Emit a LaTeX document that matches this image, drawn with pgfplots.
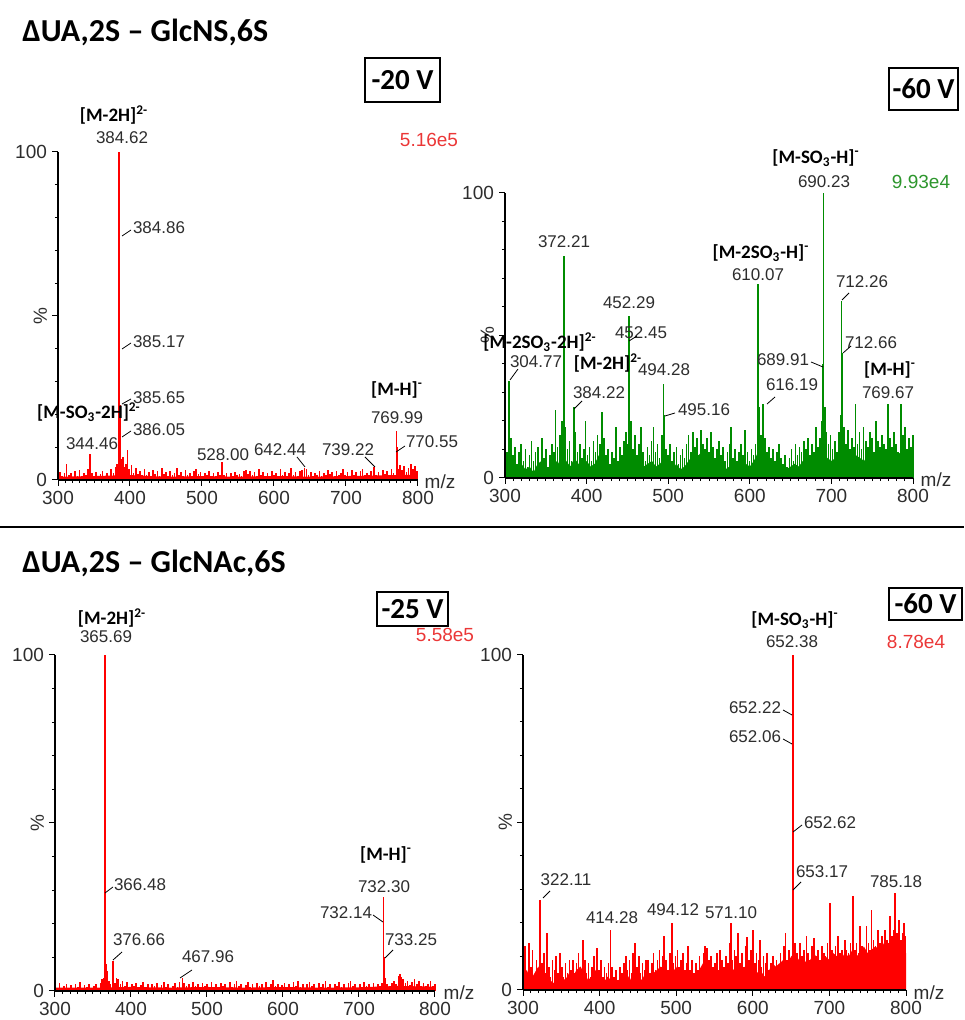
\documentclass[border=0pt]{standalone}
\usepackage{fontspec}
\usepackage{graphicx}
\usepackage{pgfplots}
\pgfplotsset{compat=1.18}
\newfontfamily\numfam{Liberation Sans}
\newfontfamily\labfam{Carlito}
\newcommand{\nf}{\numfam\fontsize{8.5}{10}\selectfont}
\newcommand{\tf}{\numfam\fontsize{9.5}{11}\selectfont}
\newcommand{\bfl}{\labfam\bfseries\fontsize{9.5}{11}\selectfont}
\newcommand{\titf}{\labfam\bfseries\fontsize{16}{19}\selectfont}
\newcommand{\boxf}{\labfam\bfseries\fontsize{14.5}{17}\selectfont}
\definecolor{specred}{RGB}{255,0,0}
\definecolor{specgreen}{RGB}{0,140,0}
\definecolor{intred}{RGB}{235,55,55}
\definecolor{intgreen}{RGB}{45,150,45}
\definecolor{numgray}{RGB}{45,45,45}
\pgfplotsset{spec/.style={
  scale only axis, anchor=south west, clip=false, axis on top,
  xmin=300, xmax=800, ymin=0, ymax=100,
  axis x line*=bottom, axis y line*=left,
  axis line style={line width=0.8pt, black},
  xtick={300,400,...,800}, minor x tick num=9,
  ytick={0,50,100}, minor ytick={10,20,...,90},
  yticklabels={0,{\rotatebox{90}{\%}},100},
  tick align=outside,
  major tick length=3pt, minor tick length=1.6pt,
  every tick/.style={black, line width=0.5pt},
  tick label style={font=\tf, text=numgray},
  /pgf/number format/assume math mode=true,
  xticklabel style={yshift=1pt},
  yticklabel style={xshift=1pt},
}}
\begin{document}
\begin{tikzpicture}
\useasboundingbox (0,0) rectangle (482pt,510pt);

% ---------------- Panel 1 ----------------
\begin{axis}[spec, at={(29pt,270pt)}, width=180pt, height=164pt]
\addplot[fill=specred, draw=none] coordinates {(300,1) (350,1.2) (400,1.5) (450,1) (500,1.2) (550,1) (600,1.2) (650,1) (700,1.2) (750,1.4) (800,1.6)} \closedcycle;
\addplot[ycomb, color=specred, line width=0.85pt] coordinates {
(300,1.5) (303,2.5) (306,1.2) (309,2.0) (312,4.8) (315,1.4) (318,2.2) (321,1.0) (324,2.6) (327,1.3)
(330,3.0) (333,1.1) (336,2.0) (339,1.6) (342,3.2) (344.46,8.0) (347,2.0) (350,1.2) (353,2.4) (356,1.0)
(359,1.8) (362,2.8) (365,1.3) (368,2.0) (371,1.1) (374,3.4) (377,2.2) (380,4.0) (382,5.0)
(384.62,100) (384.86,75) (385.17,40) (385.65,23) (386.05,13) (388,6.5) (390,7.0) (392,4.0) (394,5.0)
(396.5,9.0) (399,3.5) (402,4.5) (405,2.2) (408,3.8) (411,1.8) (414,2.6) (417,1.4) (420,3.2) (423,1.6)
(426,2.4) (429,1.2) (432,3.0) (435,1.8) (438,2.6) (441,1.3) (444,3.6) (447,1.7) (450,2.3) (453,1.2)
(456,2.8) (459,1.5) (462,2.0) (465,3.8) (468,1.6) (471,2.4) (474,1.2) (477,3.0) (480,1.5) (483,2.2)
(486,1.0) (489,2.6) (492,3.4) (495,1.8) (498,2.4) (501,1.2) (504,2.0) (507,1.5) (510,2.7) (513,1.3)
(516,2.0) (519,1.1) (522,2.4) (525,1.6) (528,5.5) (531,1.4) (534,2.2) (537,1.0) (540,2.0) (543,1.2)
(546,2.5) (549,1.4) (552,1.9) (555,1.1) (558,2.6) (561,3.0) (564,1.8) (567,2.8) (570,1.4) (573,2.3)
(576,1.2) (579,3.5) (582,1.6) (585,2.4) (588,1.3) (591,2.0) (594,1.1) (597,2.8) (600,1.5) (603,2.0)
(606,1.2) (609,3.2) (612,1.6) (615,2.5) (618,1.3) (621,2.1) (624,3.6) (627,1.4) (630,2.4) (633,1.2)
(636,2.8) (639,3.0) (642.44,3.8) (645,3.2) (648,1.6) (651,2.4) (654,1.2) (657,2.0) (660,1.4) (663,2.6)
(666,1.1) (669,2.2) (672,1.5) (675,3.0) (678,1.8) (681,2.4) (684,1.2) (687,2.8) (690,1.5) (693,2.2)
(696,3.3) (699,1.6) (702,2.4) (705,1.3) (708,2.9) (711,1.5) (714,2.3) (717,1.2) (720,2.6) (723,3.2)
(726,1.6) (729,2.2) (732,1.4) (735,2.6) (739.22,4.0) (742,1.6) (745,2.4) (748,1.2) (751,3.0) (754,1.8)
(757,2.8) (760,1.6) (763,3.4) (766,2.2) (769.99,15.0) (770.55,10.0) (772,3.5) (775,4.5) (778,3.0)
(781,4.2) (784,2.5) (787,3.8) (790,5.0) (793,3.2) (796,4.4) (799,2.6)};
\end{axis}

% ---------------- Panel 2 ----------------
\begin{axis}[spec, at={(252.5pt,271pt)}, width=204pt, height=142.5pt]
\addplot[fill=specgreen, draw=none] coordinates {
(300,3) (305,6) (310,4) (315,2) (320,5) (325,3) (330,4) (335,2) (340,5) (345,6) (350,3) (355,4) (360,7) (365,5) (370,8) (375,6) (380,4) (385,7) (390,5) (395,3)
(400,6) (405,4) (410,5) (415,8) (420,7) (425,4) (430,3) (435,5) (440,4) (445,6) (450,8) (455,7) (460,5) (465,6) (470,4) (475,5) (480,6) (485,4) (490,5) (495,7)
(500,4) (505,3) (510,5) (515,3) (520,4) (525,6) (530,8) (535,7) (540,9) (545,6) (550,7) (555,5) (560,4) (565,5) (570,3) (575,4) (580,5) (585,3) (590,4) (595,5)
(600,4) (605,6) (610,9) (615,7) (620,5) (625,4) (630,3) (635,4) (640,2) (645,3) (650,4) (655,5) (660,4) (665,6) (670,5) (675,7) (680,6) (685,8) (690,9) (695,7)
(700,6) (705,7) (710,9) (715,8) (720,7) (725,6) (730,8) (735,7) (740,6) (745,8) (750,7) (755,6) (760,8) (765,7) (770,9) (775,7) (780,8) (785,9) (790,7) (795,8) (800,6)} \closedcycle;
\addplot[ycomb, color=specgreen, line width=0.85pt] coordinates {
(300,6) (302.5,9) (304.77,34) (307.5,14) (310,8) (312.5,11) (315,5) (317.5,9) (320,12) (322.5,6)
(325,10) (327.5,4) (330,8) (332.5,13) (335,6) (337.5,9) (340,11) (342.5,5) (345,14) (347.5,7)
(350,10) (352.5,4) (355,8) (357.5,12) (360,9) (362,24) (364.5,11) (367,15) (370,20) (372.21,78)
(374,18) (376.5,10) (379,13) (381.5,6) (384.22,25) (386.5,16) (389,9) (391.5,12) (394,7) (396.5,10)
(398.5,20) (401,8) (403.5,11) (406,6) (408.5,13) (411,9) (413.5,15) (416,12) (418.5,23) (421,14)
(423.5,8) (426,10) (428.5,5) (431,9) (433.5,7) (436,18) (438.5,6) (441,11) (443.5,8) (446,13)
(448.5,16) (451,12) (452.29,57) (452.45,48) (454.5,20) (457,10) (459.5,15) (462,8) (464.5,12) (467,18)
(469.5,9) (472,6) (474.5,11) (477,8) (479.5,13) (482,18) (484.5,9) (487,12) (489.5,7) (492,15)
(494.28,33) (495.16,22) (497.5,10) (500,8) (502.5,12) (505,6) (507.5,9) (510,11) (512.5,5) (515,8)
(517.5,10) (520,7) (522.5,12) (525,15) (527.5,9) (530,16) (532.5,11) (535,14) (537.5,8) (540,17)
(542.5,12) (545,10) (547.5,14) (550,9) (552.5,16) (555,11) (557.5,7) (560,10) (562.5,13) (565,8)
(567.5,11) (570,6) (572.5,9) (575,12) (577,18) (579.5,7) (582,10) (584.5,6) (587,9) (589.5,12)
(592,8) (594.5,17) (597,9) (599.5,6) (602,10) (604.5,8) (607,12) (610.07,68) (612,25) (614,15)
(616.19,26) (618.5,14) (621,9) (623.5,11) (626,7) (628.5,10) (631,6) (633.5,9) (636,12) (638.5,7)
(641,5) (643.5,8) (646,4) (648.5,7) (651,10) (653.5,6) (656,12) (658.5,8) (661,11) (663.5,9)
(666,13) (668.5,10) (671,14) (673.5,8) (676,12) (678.5,9) (681,18) (683.5,11) (686,14) (688,20)
(689.91,40) (690.23,100) (692,25) (694,16) (696.5,12) (699,15) (701.5,10) (704,13) (706.5,9) (709,16)
(711,22) (712.26,62) (712.66,44) (713.2,29) (715,18) (717.5,12) (720,17) (722.5,10) (725,14) (727.5,11)
(729.5,26) (732,12) (734.5,16) (737,10) (739.5,18) (742,13) (744.5,11) (747,16) (749.5,14) (752,9)
(754.5,20) (757,13) (759.5,11) (762,15) (764.5,12) (767,10) (769.67,26) (772,14) (774.5,11) (777,16)
(779.5,12) (782,9) (785,26) (787.5,15) (790,18) (792.5,10) (795,14) (797.5,11) (800,15)};
\end{axis}

% ---------------- Panel 3 ----------------
\begin{axis}[spec, at={(27.5pt,14.5pt)}, width=190pt, height=168pt]
\addplot[fill=specred, draw=none] coordinates {(300,1) (350,1) (400,1.2) (450,1) (500,1.2) (550,1) (600,1.2) (650,1) (700,1.1) (750,1.5) (800,1.3)} \closedcycle;
\addplot[ycomb, color=specred, line width=0.85pt] coordinates {
(300,2.0) (303,1.0) (306,2.4) (309,0.8) (312,1.6) (315,2.2) (318,1.0) (321,1.8) (324,0.9) (327,2.0)
(330,1.2) (333,2.6) (336,1.0) (339,1.8) (342,1.2) (345,2.2) (348,0.8) (351,1.6) (354,2.0) (357,1.0)
(360,2.5) (362,3.5) (364,4.0) (365.69,100) (366.48,29) (367.5,8) (369,6) (371,3.0) (373,2.2) (376.66,9)
(379,2.5) (381,4.0) (383,3.6) (386,2.2) (389,3.0) (392,1.6) (395,2.6) (398,1.2) (401,2.0) (404,1.5)
(407,2.4) (410,1.0) (413,1.8) (416,2.8) (419,1.2) (422,2.0) (425,1.0) (428,2.2) (431,1.4) (434,2.4)
(437,1.0) (440,1.8) (443,2.6) (446,1.2) (449,2.0) (452,1.0) (455,1.6) (458,2.4) (461,1.2) (464,2.8)
(467.96,4.0) (470,2.5) (473,1.4) (476,2.2) (479,1.0) (482,2.6) (485,1.4) (488,2.0) (491,1.2) (494,2.4)
(497,1.6) (500,2.0) (503,1.0) (506,2.8) (509,1.3) (512,2.0) (515,1.0) (518,2.4) (521,1.4) (524,2.0)
(527,1.0) (530,2.6) (533,1.2) (536,2.0) (539,3.0) (542,1.4) (545,2.2) (548,1.0) (551,1.8) (554,2.6)
(557,1.2) (560,2.0) (563,1.0) (566,2.4) (569,1.4) (572,2.0) (575,1.0) (578,2.6) (581,1.2) (584,2.0)
(587,3.2) (590,1.4) (593,2.2) (596,1.0) (599,1.8) (602,2.4) (605,1.2) (608,2.0) (611,1.0) (614,2.6)
(617,1.4) (620,3.0) (623,1.2) (626,2.2) (629,1.0) (632,2.0) (635,2.8) (638,1.4) (641,2.2) (644,1.0)
(647,2.4) (650,1.2) (653,2.0) (656,3.0) (659,1.3) (662,2.2) (665,1.0) (668,2.0) (671,1.4) (674,2.6)
(677,1.2) (680,2.0) (683,1.0) (686,2.4) (689,3.0) (692,1.4) (695,2.0) (698,1.0) (701,2.2) (704,1.2)
(707,2.6) (710,1.4) (713,2.0) (716,1.0) (719,2.4) (722,1.2) (725,2.0) (728,1.6) (730,2.5) (732.14,20)
(732.30,28) (733.25,10) (734.5,4) (737,2.0) (740,1.4) (743,2.4) (746,3.0) (749,2.2) (752,4.5) (754,5.0)
(756,4.2) (758,3.5) (761,2.4) (764,3.0) (767,1.8) (770,2.6) (773,3.5) (776,2.0) (779,3.0) (782,1.6)
(785,2.4) (788,1.4) (791,2.2) (794,3.0) (797,1.6) (800,2.0)};
\end{axis}

% ---------------- Panel 4 ----------------
\begin{axis}[spec, at={(261.5pt,15pt)}, width=191.5pt, height=167.5pt]
\addplot[fill=specred, draw=none] coordinates {
(300,4) (305,6) (310,3) (315,5) (320,7) (325,4) (330,5) (335,3) (340,2) (345,5) (350,4) (355,3) (360,5) (365,4) (370,6) (375,7) (380,5) (385,3) (390,4) (395,6)
(400,3) (405,2) (410,4) (415,3) (420,2) (425,3) (430,4) (435,5) (440,3) (445,6) (450,4) (455,3) (460,5) (465,4) (470,5) (475,6) (480,7) (485,5) (490,6) (495,5)
(500,7) (505,4) (510,5) (515,6) (520,3) (525,4) (530,6) (535,8) (540,9) (545,7) (550,6) (555,5) (560,6) (565,4) (570,7) (575,6) (580,8) (585,6) (590,7) (595,8)
(600,7) (605,5) (610,6) (615,4) (620,5) (625,8) (630,7) (635,8) (640,9) (645,8) (650,10) (655,11) (660,9) (665,10) (670,8) (675,9) (680,11) (685,9) (690,8) (695,10)
(700,9) (705,11) (710,10) (715,9) (720,11) (725,10) (730,12) (735,10) (740,11) (745,13) (750,11) (755,12) (760,13) (765,12) (770,14) (775,12) (780,13) (785,14) (790,12) (795,13) (800,11)} \closedcycle;
\addplot[ycomb, color=specred, line width=0.85pt] coordinates {
(300,8) (302.5,13) (305,5) (307.5,14) (310,7) (312.5,12) (315,4) (317.5,9) (320,6) (322.11,27)
(324.5,8) (327,11) (329.5,5) (331,17) (333.5,7) (336,4) (338.5,9) (341,6) (343.5,10) (346,5)
(348,11) (350.5,7) (353,4) (355.5,8) (358,5) (360.5,9) (363,6) (365,9) (367.5,5) (370,8)
(372.5,11) (375,7) (378,15) (380.5,9) (383,5) (385.5,8) (388,4) (390.5,7) (393,10) (396.5,12.5)
(399,6) (401.5,9) (404,4) (406.5,7) (409,5) (411.5,8) (414.28,18) (416.5,7) (419,4) (421.5,6)
(424,3) (426.5,7) (429,5) (431.5,8) (434,10) (436.5,6) (439,9) (441.5,5) (444,11) (446,14)
(448.5,7) (451,10) (453.5,5) (456,8) (458.5,6) (461,9) (463,9) (465.5,5) (468,8) (470.5,11)
(473,6) (475.5,9) (478,12) (480.5,7) (483,10) (484.5,16) (487,9) (489.5,6) (492,11) (494.12,20)
(496.5,8) (499,10) (501.5,12) (504,7) (506.5,9) (509,11) (511.5,6) (514,8) (515.5,13) (518,6)
(520.5,9) (523,5) (525.5,8) (528,6) (530.5,10) (533,7) (535.5,11) (538,13) (540.5,12.5) (543,9)
(545.5,10) (548,7) (550.5,8) (553,11) (555.5,6) (557.5,12) (560,9) (562.5,7) (565,10) (567.5,8)
(569.5,14) (571.1,20) (573.5,9) (576,12) (578.5,10) (581,17) (583.5,8) (586,11) (588.5,7) (591,13)
(592.5,15.7) (595,9) (597.5,12) (600,18) (602.5,8) (605,11) (607.5,9) (609,15) (611.5,7) (614,10)
(616.5,8) (618.5,11) (621,6) (623.5,8) (626,10) (628.5,7) (631,9) (633.5,6) (636,11) (638.5,8)
(640.5,13) (642.5,17) (645,9) (647.5,12) (650,8) (652.06,74) (652.22,82) (652.38,100) (652.62,47) (653.17,30)
(655,14) (657.5,11) (660,9) (662,14) (664.5,10) (667,12) (670,16) (672.5,11) (675,9) (677.5,13)
(680,15.5) (682.5,10) (685,12) (687.5,9) (690,13) (692.5,11) (695,10) (697.5,14) (700.8,26) (703,12)
(705.5,10) (708,13) (711,16) (713.5,11) (716,12) (718.5,10) (720,15) (722.5,12) (725,11) (727.5,14)
(730.5,28) (733,12) (735.5,14) (738,11) (740,19) (742.5,13) (745,12) (748.6,19) (751,14) (753,12)
(755,24) (757.5,15) (760,13) (763.6,18) (766,14) (768.5,16) (770.5,13) (772.6,18) (775,15) (777,14)
(779,22) (781.5,16) (783.5,18) (785.6,29) (788,17) (791,21) (793.5,15) (795.5,17) (797,20) (799.5,16)};
\end{axis}

% ---------------- Annotations (pixel coordinates) ----------------
\begin{scope}[x=0.5pt, y=-0.5pt, shift={(0pt,510pt)}, every node/.style={inner sep=0pt, text=numgray}]
\draw[line width=0.8pt] (0,527) -- (964,527);
% titles
\node[anchor=west, text=black] at (22,32) {\titf ΔUA,2S – GlcNS,6S};
\node[anchor=west, text=black] at (22,563) {\titf ΔUA,2S – GlcNAc,6S};
% boxes
\node[draw=black, line width=0.7pt, minimum width=37.5pt, minimum height=22pt, text=black] at (402.5,80) {\boxf -20 V};
\node[draw=black, line width=0.7pt, minimum width=34.5pt, minimum height=21pt, text=black] at (923.5,89) {\boxf -60 V};
\node[draw=black, line width=0.7pt, minimum width=35.5pt, minimum height=17pt, text=black] at (412.5,609) {\boxf -25 V};
\node[draw=black, line width=0.7pt, minimum width=36.5pt, minimum height=16pt, text=black] at (925.5,604) {\boxf -60 V};
% intensities
\node[text=intred] at (429,140) {\tf 5.16e5};
\node[text=intgreen] at (921,182) {\tf 9.93e4};
\node[text=intred] at (445,635) {\tf 5.58e5};
\node[text=intred] at (916,642) {\tf 8.78e4};
% m/z
\node at (440,482) {\tf m/z};
\node at (936,480) {\tf m/z};
\node at (459,993) {\tf m/z};
\node at (929,993) {\tf m/z};

% panel 1 labels
\node[text=black] at (114,115) {\bfl [M-2H]\textsuperscript{2-}};
\node at (122,138) {\nf 384.62};
\node at (159,228) {\nf 384.86}; \draw[line width=0.4pt] (122,236) -- (131,230);
\node at (159,342) {\nf 385.17}; \draw[line width=0.4pt] (122,349) -- (131,343);
\node at (159,398) {\nf 385.65}; \draw[line width=0.4pt] (122,404) -- (131,399);
\node at (159,430) {\nf 386.05}; \draw[line width=0.4pt] (122,437) -- (131,431);
\node[text=black] at (89,412) {\bfl [M-SO\textsubscript{3}-2H]\textsuperscript{2-}};
\node at (92,444) {\nf 344.46};
\node at (223,455) {\nf 528.00};
\node at (280,450) {\nf 642.44}; \draw[line width=0.4pt] (297,457) -- (305,467);
\node at (348,450) {\nf 739.22}; \draw[line width=0.4pt] (365,457) -- (375,467);
\node[text=black] at (397,390) {\bfl [M-H]\textsuperscript{-}};
\node at (397,418) {\nf 769.99};
\node at (432,442) {\nf 770.55}; \draw[line width=0.4pt] (396,452) -- (405,446);

% panel 2 labels
\node[text=black] at (816,158) {\bfl [M-SO\textsubscript{3}-H]\textsuperscript{-}};
\node at (824,182) {\nf 690.23};
\node at (564,242) {\nf 372.21};
\node[text=black] at (761,253) {\bfl [M-2SO\textsubscript{3}-H]\textsuperscript{-}};
\node at (758,275) {\nf 610.07};
\node at (862,282) {\nf 712.26}; \draw[line width=0.4pt] (842,300) -- (849,293);
\node at (629,303) {\nf 452.29};
\node at (641,333) {\nf 452.45}; \draw[line width=0.4pt] (629,341) -- (637,336);
\node[text=black] at (540,342) {\bfl [M-2SO\textsubscript{3}-2H]\textsuperscript{2-}};
\node at (871,343) {\nf 712.66}; \draw[line width=0.4pt] (843,353) -- (851,346);
\node at (536,362) {\nf 304.77}; \draw[line width=0.4pt] (510,380) -- (518,369);
\node[text=black] at (608,363) {\bfl [M-2H]\textsuperscript{2-}};
\node at (783,360) {\nf 689.91}; \draw[line width=0.4pt] (811,362) -- (823,367);
\node at (664,370) {\nf 494.28};
\node[text=black] at (890,370) {\bfl [M-H]\textsuperscript{-}};
\node at (599,393) {\nf 384.22}; \draw[line width=0.4pt] (574,409) -- (582,401);
\node at (792,385) {\nf 616.19}; \draw[line width=0.4pt] (767,404) -- (775,397);
\node at (888,393) {\nf 769.67};
\node at (704,410) {\nf 495.16}; \draw[line width=0.4pt] (665,416) -- (675,413);

% panel 3 labels
\node[text=black] at (112,618) {\bfl [M-2H]\textsuperscript{2-}};
\node at (106,637) {\nf 365.69};
\node at (140,885) {\nf 366.48}; \draw[line width=0.4pt] (105,893) -- (113,887);
\node[text=black] at (386,855) {\bfl [M-H]\textsuperscript{-}};
\node at (384,887) {\nf 732.30};
\node at (346,913) {\nf 732.14}; \draw[line width=0.4pt] (373,915) -- (383,922);
\node at (139,940) {\nf 376.66}; \draw[line width=0.4pt] (113,960) -- (122,952);
\node at (411,940) {\nf 733.25}; \draw[line width=0.4pt] (385,958) -- (393,950);
\node at (208,957) {\nf 467.96}; \draw[line width=0.4pt] (180,978) -- (192,970);

% panel 4 labels
\node[text=black] at (795,620) {\bfl [M-SO\textsubscript{3}-H]\textsuperscript{-}};
\node at (792,642) {\nf 652.38};
\node at (755,708) {\nf 652.22}; \draw[line width=0.4pt] (783,710) -- (792,715);
\node at (755,737) {\nf 652.06}; \draw[line width=0.4pt] (783,739) -- (792,744);
\node at (830,823) {\nf 652.62}; \draw[line width=0.4pt] (793,832) -- (802,825);
\node at (822,872) {\nf 653.17}; \draw[line width=0.4pt] (793,890) -- (801,882);
\node at (566,880) {\nf 322.11}; \draw[line width=0.4pt] (543,898) -- (550,891);
\node at (896,882) {\nf 785.18};
\node at (612,918) {\nf 414.28};
\node at (673,910) {\nf 494.12};
\node at (731,913) {\nf 571.10};
\end{scope}
\end{tikzpicture}
\end{document}
